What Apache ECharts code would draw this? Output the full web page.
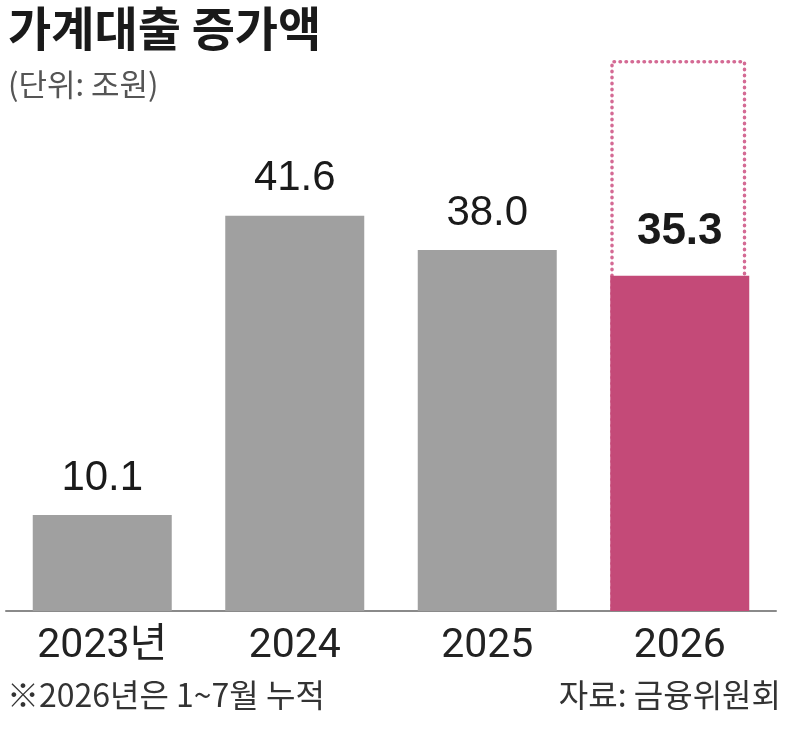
<!DOCTYPE html>
<html><head><meta charset="utf-8">
<script src="https://cdn.jsdelivr.net/npm/echarts@6/dist/echarts.min.js"></script>
<style>html,body{margin:0;padding:0;background:#fff}#c{width:800px;height:752px}</style>
</head><body><div id="c"></div>
<script>
const categories = ['2023년', '2024', '2025', '2026'];
const values = [10.1, 41.6, 38.0, 35.3];
const outlineValues = [null, null, null, 58.0];
const titleText = '가계대출 증가액';
const unitText = '(단위: 조원)';
const noteText = '※2026년은 1~7월 누적';
const sourceText = '자료: 금융위원회';

const GRAY = '#a0a0a0', PINK = '#c44a78', DOT = '#d46a94';
const chart = echarts.init(document.getElementById('c'), null, {renderer: 'canvas'});
const barData = values.map((v, i) => {
  const last = i === values.length - 1;
  return {
    value: v,
    itemStyle: {color: last ? PINK : GRAY},
    label: last ? {fontWeight: 'bold', fontSize: 44, distance: 22} : {}
  };
});
chart.setOption({
  animation: false,
  title: [
    {text: titleText, left: 3, top: 0, textStyle: {fontFamily: 'Noto Sans CJK KR', fontWeight: 'bold', fontSize: 47, color: '#1a1a1a'}},
    {text: unitText, left: 3, top: 64, textStyle: {fontFamily: 'Noto Sans CJK KR', fontWeight: 'normal', fontSize: 31, color: '#555'}},
    {text: noteText, left: 2, top: 674, textStyle: {fontFamily: 'Noto Sans CJK KR', fontWeight: 'normal', fontSize: 32, color: '#333'}},
    {text: sourceText, right: 14, top: 674, textStyle: {fontFamily: 'Noto Sans CJK KR', fontWeight: 'normal', fontSize: 32, color: '#333'}}
  ],
  grid: {left: 6, right: 24, top: 41, bottom: 141},
  xAxis: {
    type: 'category', data: categories,
    axisLine: {lineStyle: {color: '#8a8a8a', width: 2}},
    axisTick: {show: false},
    axisLabel: {margin: 15, fontSize: 41, color: '#222', fontFamily: 'Roboto, Noto Sans CJK KR'}
  },
  yAxis: {type: 'value', min: 0, max: 60, show: false, splitLine: {show: false}},
  series: [
    {
      type: 'bar', data: outlineValues, barWidth: 136, barGap: '-100%', z: 1,
      itemStyle: {color: 'rgba(0,0,0,0)', borderColor: DOT, borderWidth: 3.5, borderType: [0.5, 5.5], borderCap: 'round'},
      silent: true
    },
    {
      type: 'bar', data: barData, barWidth: 139, z: 2,
      label: {show: true, position: 'top', distance: 16, fontSize: 42, color: '#1a1a1a', fontFamily: 'Liberation Sans, Arial',
        formatter: p => Number(p.value).toFixed(1)}
    }
  ]
});
</script></body></html>
